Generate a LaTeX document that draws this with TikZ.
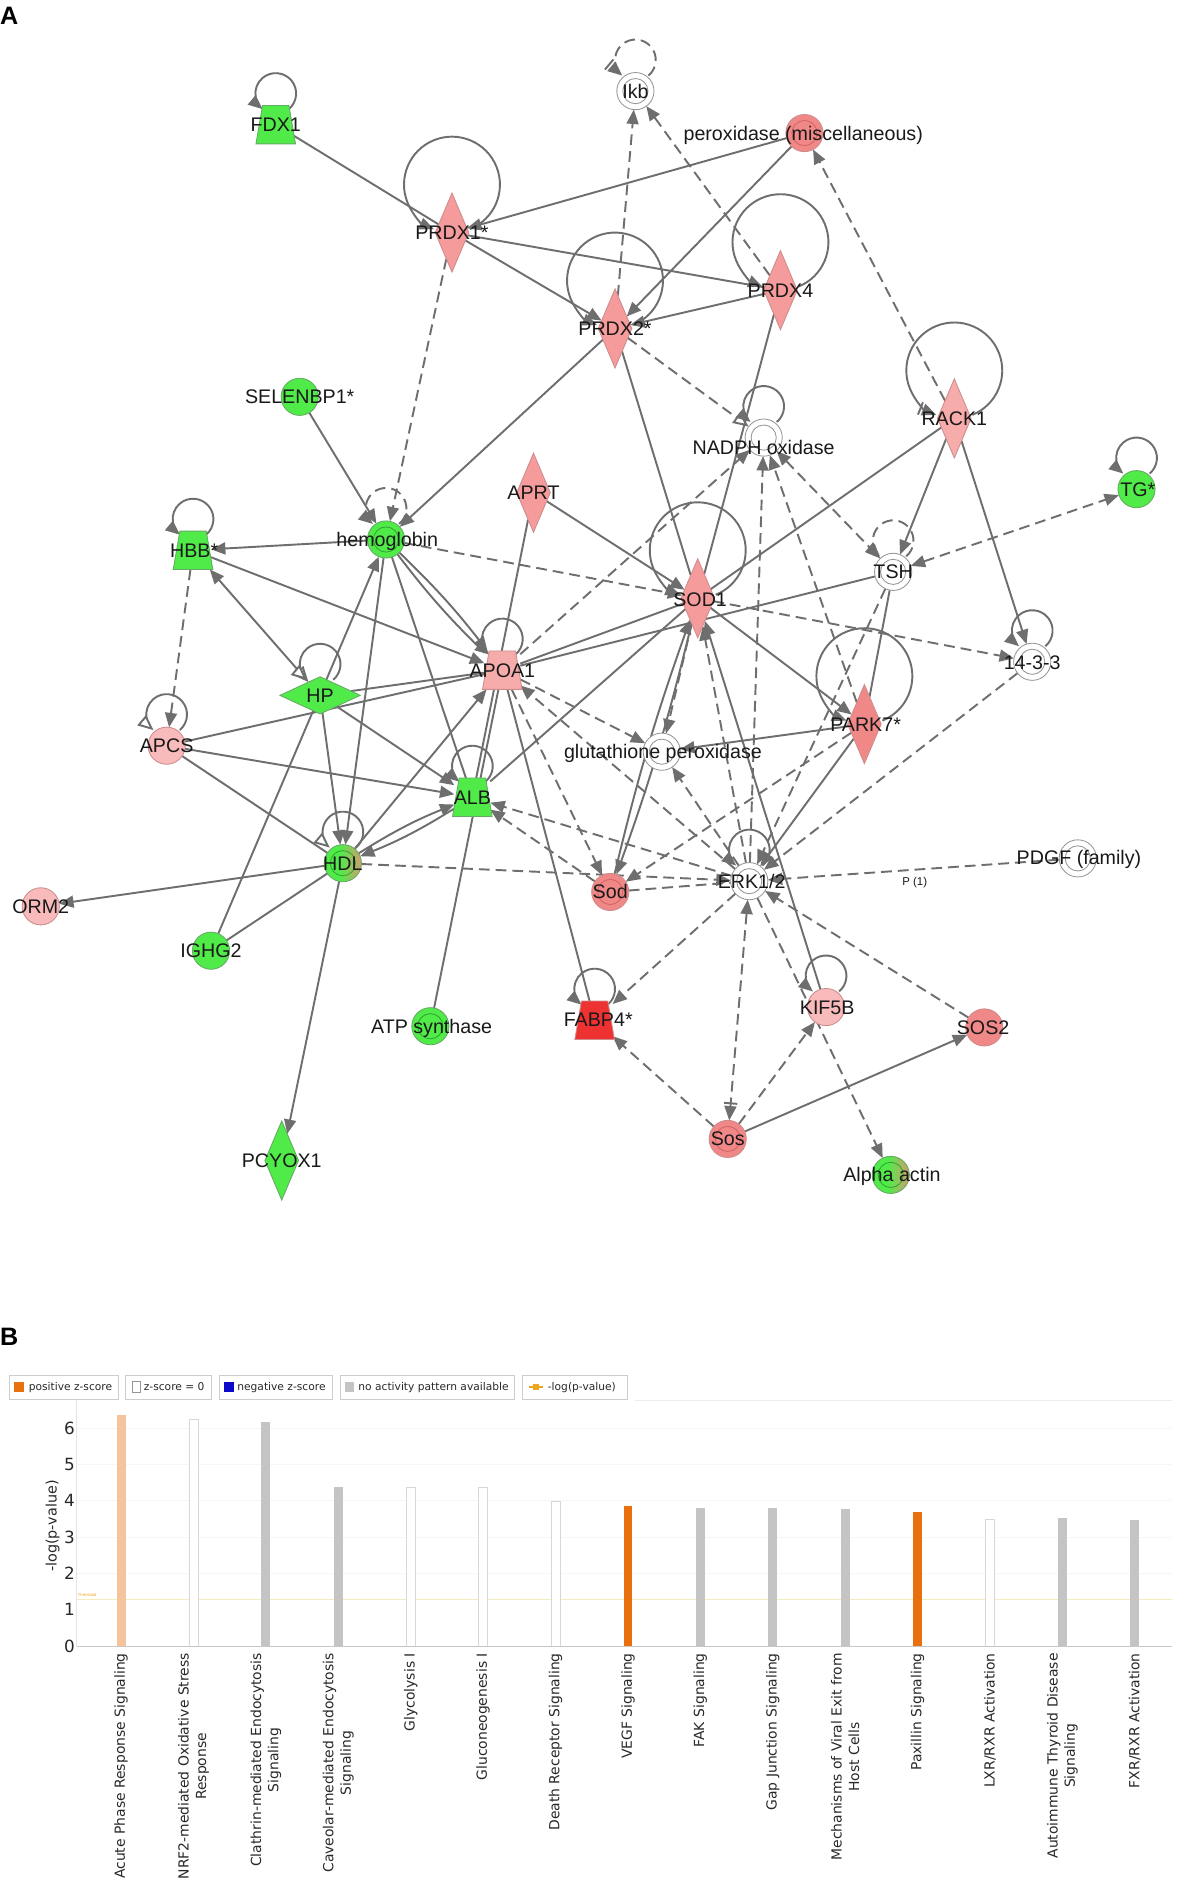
\documentclass[tikz,border=0pt]{standalone}
\usepackage{fontspec}
\setmainfont{Liberation Sans}
\newfontfamily\chartfont{DejaVu Sans}
\usetikzlibrary{shapes.geometric,arrows.meta,calc}
\pgfdeclarelayer{bg}
\pgfsetlayers{bg,main}
\definecolor{edgec}{RGB}{110,110,110}
\definecolor{grn}{RGB}{80,235,72}
\definecolor{grnb}{RGB}{100,170,100}
\definecolor{grnr}{RGB}{50,165,50}
\definecolor{pinkL}{RGB}{248,186,186}
\definecolor{pinkLL}{RGB}{247,172,172}
\definecolor{pinkM}{RGB}{245,155,155}
\definecolor{pinkD}{RGB}{241,136,136}
\definecolor{pinkb}{RGB}{205,140,140}
\definecolor{pinkr}{RGB}{210,100,100}
\definecolor{redn}{RGB}{238,50,50}
\definecolor{whb}{RGB}{150,150,150}
\definecolor{tanc}{RGB}{205,160,110}
\definecolor{txt}{RGB}{25,25,25}
\definecolor{barLO}{RGB}{245,196,156}
\definecolor{barO}{RGB}{232,112,14}
\definecolor{barG}{RGB}{196,196,196}
\definecolor{barWb}{RGB}{215,215,215}
\definecolor{legb}{RGB}{205,205,205}
\definecolor{legblue}{RGB}{10,10,200}
\definecolor{legor}{RGB}{240,165,30}
\definecolor{thr}{RGB}{245,236,190}
\definecolor{axisc}{RGB}{200,200,200}
\definecolor{chtxt}{RGB}{40,40,40}
\pgfdeclarehorizontalshading{grtan}{100bp}{color(0bp)=(grn); color(46bp)=(grn); color(73bp)=(tanc); color(100bp)=(tanc)}
\tikzset{
  every node/.style={inner sep=0pt,outer sep=0pt},
  lab/.style={font=\fontsize{16.4}{18}\selectfont,text=txt,text height=11.7pt,text depth=0pt},
  base/.style={line width=0.7pt},
  circ/.style={base,circle,minimum size=31pt},
  dmd/.style={base,diamond,minimum width=28pt,minimum height=66pt},
  hdmd/.style={base,diamond,minimum width=67pt,minimum height=31pt},
  trap/.style={rectangle,minimum width=30pt,minimum height=32pt},
  gr/.style={fill=grn,draw=grnb},
  pk/.style={fill=#1,draw=pinkb},
  wh/.style={fill=white,draw=whb},
  mix/.style={shading=grtan,draw=grnb},
  ring/.style={line width=0.7pt,draw=#1},
  ed/.style={draw=edgec,line width=1.6pt},
  dl/.style={ed,dash pattern=on 9pt off 5pt},
  ar/.style={-{Triangle[length=12pt,width=10pt]}},
  arb/.style={{Triangle[length=12pt,width=10pt]}-{Triangle[length=12pt,width=10pt]}},
  oa/.style={-{Triangle[open,length=13pt,width=11pt,fill=white]}},
  ba/.style={-{Bar[width=11pt,sep=1.5pt]Triangle[length=12pt,width=10pt]}},
  hpst/.style={{Triangle[open,length=13pt,width=11pt,fill=white]}-{Triangle[length=12pt,width=10pt]}},
  ersos/.style={{Triangle[length=12pt,width=10pt]}-{Bar[width=11pt,sep=1.5pt]Triangle[length=12pt,width=10pt]}},
  xlab/.style={rotate=90,anchor=east,align=center,text=chtxt,font=\chartfont\fontsize{11.6}{14.5}\selectfont},
  legt/.style={anchor=west,text=chtxt,font=\chartfont\fontsize{8.9}{10}\selectfont},
  legbox/.style={draw=legb,line width=0.8pt},
  tickl/.style={text=chtxt,font=\chartfont\fontsize{14}{15}\selectfont},
  barlo/.style={fill=barLO},
  baro/.style={fill=barO},
  barg/.style={fill=barG},
  barw/.style={fill=white,draw=barWb,line width=0.6pt},
}
\newcommand\sloop[2][]{\draw[#1] ($(#2.center)+(0,-26)+(50:17)$) arc[start angle=50,end angle=-230,radius=17];}
\newcommand\bloop[2][]{\draw[#1] ($(#2.center)+(0,-40)+(68:40)$) arc[start angle=68,end angle=-248,radius=40];}
\newcommand\trapz[2]{\draw[base,#2] ($(#1.center)+(-16.5,16)$) -- ($(#1.center)+(16.5,16)$) -- ($(#1.center)+(11,-16)$) -- ($(#1.center)+(-11,-16)$) -- cycle;}
\begin{document}
\begin{tikzpicture}[x=1pt,y=-1pt]
\useasboundingbox (0,0) rectangle (985,1574);
\begin{pgfonlayer}{bg}
\fill[white] (0,0) rectangle (985,1574);
\end{pgfonlayer}
% panel letters
\node[anchor=west,font=\bfseries\fontsize{21}{24}\selectfont] (pA) at (0,13) {A};
\node[anchor=west,font=\bfseries\fontsize{21}{24}\selectfont] (pB) at (0,1115) {B};
% ---------------- network nodes ----------------
\node[trap] (FDX1) at (230,104) {};
\node[circ,wh] (Ikb) at (530,76) {};
\node[circ,pk=pinkD] (PEROX) at (671,111) {};
\node[dmd,pk=pinkM] (PRDX1) at (377,194) {};
\node[dmd,pk=pinkM] (PRDX4) at (651,242) {};
\node[dmd,pk=pinkM] (PRDX2) at (513,274) {};
\node[circ,gr] (SELENBP) at (250,331) {};
\node[dmd,pk=pinkLL] (RACK1) at (796,349) {};
\node[circ,wh] (NADPH) at (637,365) {};
\node[dmd,pk=pinkM] (APRT) at (445,411) {};
\node[circ,gr] (TG) at (948,408) {};
\node[trap] (HBB) at (161,459) {};
\node[circ,gr] (HEMO) at (322,450) {};
\node[circ,wh] (TSH) at (745,477) {};
\node[dmd,pk=pinkM] (SOD1) at (582,499) {};
\node[trap] (APOA1) at (419,559) {};
\node[circ,wh] (YWHA) at (861,552) {};
\node[hdmd,gr] (HP) at (267,580) {};
\node[circ,pk=pinkL] (APCS) at (139,622) {};
\node[circ,wh] (GPX) at (552,627) {};
\node[dmd,pk=pinkD] (PARK7) at (721,604) {};
\node[trap] (ALB) at (394,665) {};
\node[circ,mix] (HDL) at (286,720) {};
\node[circ,wh] (PDGF) at (899,716) {};
\node[circ,pk=pinkD] (SOD) at (509,744) {};
\node[circ,wh] (ERK) at (625,735) {};
\node[circ,pk=pinkL] (ORM2) at (34,756) {};
\node[circ,gr] (IGHG2) at (176,793) {};
\node[circ,gr] (ATP) at (359,856) {};
\node[trap] (FABP4) at (496,851) {};
\node[circ,pk=pinkL] (KIF5B) at (689,840) {};
\node[circ,pk=pinkD] (SOS2) at (821,857) {};
\node[circ,pk=pinkD] (SOS) at (607,950) {};
\node[dmd,gr] (PCYOX1) at (235,968) {};
\node[circ,mix] (ACTIN) at (743,980) {};
% trapezoid bodies
\trapz{FDX1}{gr}
\trapz{HBB}{gr}
\trapz{APOA1}{pk=pinkLL}
\trapz{ALB}{gr}
\trapz{FABP4}{pk=redn}
% inner rings of group nodes
\foreach \n in {Ikb,NADPH,TSH,YWHA,GPX,PDGF,ERK} \draw[ring=whb] (\n.center) circle[radius=10.5];
\foreach \n in {HEMO,ATP,HDL,ACTIN} \draw[ring=grnr] (\n.center) circle[radius=10.5];
\foreach \n in {PEROX,SOD,SOS} \draw[ring=pinkr] (\n.center) circle[radius=10.5];
% ---------------- labels ----------------
\node[lab] (lFDX1) at (230,104) {FDX1};
\node[lab] (lIkb) at (530,76) {Ikb};
\node[lab] (lPEROX) at (670,111) {peroxidase (miscellaneous)};
\node[lab] (lPRDX1) at (377,194) {PRDX1*};
\node[lab] (lPRDX4) at (651,242) {PRDX4};
\node[lab] (lPRDX2) at (513,274) {PRDX2*};
\node[lab] (lSEL) at (250,331) {SELENBP1*};
\node[lab] (lRACK1) at (796,349) {RACK1};
\node[lab] (lNADPH) at (637,373) {NADPH oxidase};
\node[lab] (lAPRT) at (445,411) {APRT};
\node[lab] (lTG) at (949,408) {TG*};
\node[lab] (lHBB) at (162,459) {HBB*};
\node[lab] (lHEMO) at (323,450) {hemoglobin};
\node[lab] (lTSH) at (745,477) {TSH};
\node[lab] (lSOD1) at (584,500) {SOD1};
\node[lab] (lAPOA1) at (419,559) {APOA1};
\node[lab] (lYWHA) at (861,553) {14-3-3};
\node[lab] (lHP) at (267,580) {HP};
\node[lab] (lAPCS) at (139,622) {APCS};
\node[lab] (lGPX) at (553,627) {glutathione peroxidase};
\node[lab] (lPARK7) at (722,604) {PARK7*};
\node[lab] (lALB) at (394,665) {ALB};
\node[lab] (lHDL) at (286,720) {HDL};
\node[lab] (lPDGF) at (900,715) {PDGF (family)};
\node[lab] (lSOD) at (509,744) {Sod};
\node[lab] (lERK) at (627,735) {ERK1/2};
\node[font=\fontsize{9.5}{11}\selectfont,text=txt] (lP1) at (763,736) {P (1)};
\node[lab] (lORM2) at (34,756) {ORM2};
\node[lab] (lIGHG2) at (176,793) {IGHG2};
\node[lab] (lATP) at (360,856) {ATP synthase};
\node[lab] (lFABP4) at (499,850) {FABP4*};
\node[lab] (lKIF5B) at (690,840) {KIF5B};
\node[lab] (lSOS2) at (820,857) {SOS2};
\node[lab] (lSOS) at (607,950) {Sos};
\node[lab] (lPCYOX1) at (235,968) {PCYOX1};
\node[lab] (lACTIN) at (744,980) {Alpha actin};
% ---------------- edges ----------------
\begin{pgfonlayer}{bg}
\draw[ed] (FDX1) -- (PRDX1);
\draw[ed,ar] (PEROX) -- (PRDX1);
\draw[ed] (PRDX1) -- (PRDX4);
\draw[ed,ar] (PRDX1) -- (PRDX2);
\draw[ed,ar] (PRDX4) -- (PRDX2);
\draw[ed,ar] (PEROX) -- (PRDX2);
\draw[dl,ar] (PRDX2) -- (Ikb);
\draw[dl,ar] (PRDX4) -- (Ikb);
\draw[dl,ar] (RACK1) -- (PEROX);
\draw[dl,ar] (PRDX1) -- (HEMO);
\draw[ed,ar] (PRDX2) -- (HEMO);
\draw[ed,ar] (SELENBP) -- (HEMO);
\draw[dl,oa] (PRDX2) -- (NADPH);
\draw[ed] (PRDX2) -- (SOD1);
\draw[ed] (PRDX4) -- (SOD1);
\draw[ed,ar] (HEMO) -- (HBB);
\draw[ed,ar] (HEMO) to[bend left=4] (APOA1);
\draw[ed] (HEMO) to[bend right=4] (APOA1);
\draw[dl,ar] (HEMO) -- (SOD1);
\draw[ed,ar] (APRT) -- (SOD1);
\draw[ed] (APRT) -- (ALB);
\draw[ed,ar] (HBB) -- (APOA1);
\draw[ed,hpst] (HP) -- (HBB);
\draw[dl,ar] (HBB) -- (APCS);
\draw[ed] (APCS) -- (APOA1);
\draw[ed] (HP) -- (APOA1);
\draw[ed,ar] (APCS) -- (ALB);
\draw[ed] (APCS) -- (HDL);
\draw[ed,ar] (IGHG2) -- (HEMO);
\draw[ed,ar] (HP) -- (HDL);
\draw[ed,ar] (HP) -- (ALB);
\draw[ed,ar] (HEMO) -- (HDL);
\draw[ed] (HEMO) -- (ALB);
\draw[ed] (IGHG2) -- (HDL);
\draw[ed,ar] (HDL) -- (ORM2);
\draw[ed,ar] (HDL) -- (PCYOX1);
\draw[ed,ar] (HDL) to[bend left=5] (ALB);
\draw[ed,ar] (ALB) to[bend left=5] (HDL);
\draw[ed,ar] (HDL) -- (APOA1);
\draw[dl,ar] (HDL) -- (ERK);
\draw[ed] (ALB) -- (SOD1);
\draw[ed] (ATP) -- (APOA1);
\draw[ed] (APOA1) -- (FABP4);
\draw[dl,ar] (APOA1) -- (SOD);
\draw[dl,ar] (APOA1) -- (GPX);
\draw[dl,ar] (ERK) -- (APOA1);
\draw[ed] (APOA1) -- (SOD1);
\draw[ed] (APOA1) -- (TSH);
\draw[dl,ar] (APOA1) -- (NADPH);
\draw[ed,ar] (SOD1) to[bend left=3] (SOD);
\draw[ed,ar] (SOD) to[bend left=3] (SOD1);
\draw[dl,ar] (SOD1) -- (GPX);
\draw[dl,ar] (ERK) -- (SOD1);
\draw[ed,ar] (KIF5B) -- (SOD1);
\draw[ed] (SOD1) -- (RACK1);
\draw[ed,ar] (SOD1) -- (PARK7);
\draw[dl,ar] (SOD1) -- (YWHA);
\draw[dl,arb] (NADPH) -- (TSH);
\draw[dl,ar] (ERK) -- (NADPH);
\draw[dl,ar] (PARK7) -- (NADPH);
\draw[dl,arb] (TSH) -- (TG);
\draw[ed,ar] (RACK1) -- (TSH);
\draw[ed] (TSH) -- (PARK7);
\draw[ed,ar] (RACK1) -- (YWHA);
\draw[dl,ar] (YWHA) -- (ERK);
\draw[ed,ar] (PARK7) -- (GPX);
\draw[dl,ar] (PARK7) -- (SOD);
\draw[ed,ar] (PARK7) -- (ERK);
\draw[dl,ar] (TSH) -- (ERK);
\draw[dl,ar] (ERK) -- (GPX);
\draw[dl,ar] (ERK) -- (ALB);
\draw[dl,ar] (SOD) -- (ALB);
\draw[dl] (SOD) -- (ERK);
\draw[dl,ar] (ERK) -- (FABP4);
\draw[dl,ersos] (ERK) -- (SOS);
\draw[dl,ar] (SOS) -- (KIF5B);
\draw[dl,ar] (SOS) -- (FABP4);
\draw[ed,ar] (SOS) -- (SOS2);
\draw[dl,ar] (ERK) -- (ACTIN);
\draw[dl,ar] (SOS2) -- (ERK);
\draw[dl,ar] (PDGF) -- (ERK);
% self loops
\sloop[ed,ar]{FDX1}
\sloop[dl,ba]{Ikb}
\bloop[ed,ar]{PRDX1}
\bloop[ed,ar]{PRDX4}
\bloop[ed,ar]{PRDX2}
\bloop[ed,ba]{RACK1}
\bloop[ed,ar]{SOD1}
\bloop[ed,ar]{PARK7}
\sloop[ed,ar]{NADPH}
\sloop[ed,ar]{TG}
\sloop[ed,ar]{HBB}
\sloop[dl,ar]{HEMO}
\sloop[dl,ar]{TSH}
\sloop[ed,ar]{APOA1}
\sloop[ed,ar]{YWHA}
\sloop[ed,oa]{HP}
\sloop[ed,oa]{APCS}
\sloop[ed,ar]{ALB}
\sloop[ed,oa]{HDL}
\sloop[ed,ar]{ERK}
\sloop[ed,ar]{FABP4}
\sloop[ed,ar]{KIF5B}
\end{pgfonlayer}
% ---------------- chart B ----------------
% legend
\draw[legbox] (7.5,1147) rectangle (99,1167);
\fill[barO] (12,1152.5) rectangle (20,1161.5);
\node[legt] (lg1) at (24,1157) {positive z-score};
\draw[legbox] (105,1147) rectangle (176,1167);
\draw[draw=whb,line width=0.5pt,fill=white] (110,1152.5) rectangle (117,1161.5);
\node[legt] (lg2) at (120,1157) {z-score = 0};
\draw[legbox] (183,1147) rectangle (277,1167);
\fill[legblue] (187,1152.5) rectangle (195,1161.5);
\node[legt] (lg3) at (198,1157) {negative z-score};
\draw[legbox] (284,1147) rectangle (429,1167);
\fill[barG] (288,1152.5) rectangle (295,1161.5);
\node[legt] (lg4) at (299,1157) {no activity pattern available};
\draw[legbox] (436,1147) rectangle (523,1167);
\draw[legor,line width=1pt] (441,1157) -- (453,1157);
\fill[legor] (444.5,1154.5) rectangle (449.5,1159.5);
\node[legt] (lg5) at (457,1157) {-log(p-value)};
% frame and grid
\draw[draw={rgb,255:red,236;green,236;blue,236},line width=0.6pt] (530,1168) -- (978,1168);
\foreach \g in {2,3,4,5,6} \draw[draw={rgb,255:red,246;green,246;blue,246},line width=0.5pt] (64,{1373-30.3*\g}) -- (978,{1373-30.3*\g});
\draw[draw={rgb,255:red,228;green,228;blue,228},line width=0.5pt] (64,1168) -- (64,1373);
\draw[thr,line width=0.7pt] (64,1334) -- (978,1334);
\node[anchor=south west,text=legor,font=\fontsize{3.5}{4}\selectfont] (thl) at (65,1332) {Threshold};
% bars
\foreach \i/\v/\t in {1/6.37/lo,2/6.24/w,3/6.17/g,4/4.39/g,5/4.36/w,6/4.36/w,7/3.99/w,8/3.86/o,9/3.80/g,10/3.80/g,11/3.78/g,12/3.70/o,13/3.50/w,14/3.52/g,15/3.47/g}{
  \pgfmathsetmacro\xx{101+60.4*(\i-1)}
  \pgfmathsetmacro\yy{1373-30.3*\v}
  \path[bar\t] ({\xx-3.7},1373) rectangle ({\xx+3.7},\yy);
}
\draw[axisc,line width=0.8pt] (64,1373) -- (978,1373);
% y ticks
\foreach \k in {0,...,6} \node[tickl] (yt\k) at (58,{1373-30.3*\k}) {\k};
\node[rotate=90,text=chtxt,font=\chartfont\fontsize{12}{14}\selectfont] (ylab) at (44,1273) {-log(p-value)};
% x labels
\node[xlab] (x1) at (101,1379) {Acute Phase Response Signaling};
\node[xlab] (x2) at (161.4,1379) {NRF2-mediated Oxidative Stress\\Response};
\node[xlab] (x3) at (221.8,1379) {Clathrin-mediated Endocytosis\\Signaling};
\node[xlab] (x4) at (282.2,1379) {Caveolar-mediated Endocytosis\\Signaling};
\node[xlab] (x5) at (342.6,1379) {Glycolysis I};
\node[xlab] (x6) at (403,1379) {Gluconeogenesis I};
\node[xlab] (x7) at (463.4,1379) {Death Receptor Signaling};
\node[xlab] (x8) at (523.8,1379) {VEGF Signaling};
\node[xlab] (x9) at (584.2,1379) {FAK Signaling};
\node[xlab] (x10) at (644.6,1379) {Gap Junction Signaling};
\node[xlab] (x11) at (705,1379) {Mechanisms of Viral Exit from\\Host Cells};
\node[xlab] (x12) at (765.4,1379) {Paxillin Signaling};
\node[xlab] (x13) at (825.8,1379) {LXR/RXR Activation};
\node[xlab] (x14) at (886.2,1379) {Autoimmune Thyroid Disease\\Signaling};
\node[xlab] (x15) at (946.6,1379) {FXR/RXR Activation};
\end{tikzpicture}
\end{document}
